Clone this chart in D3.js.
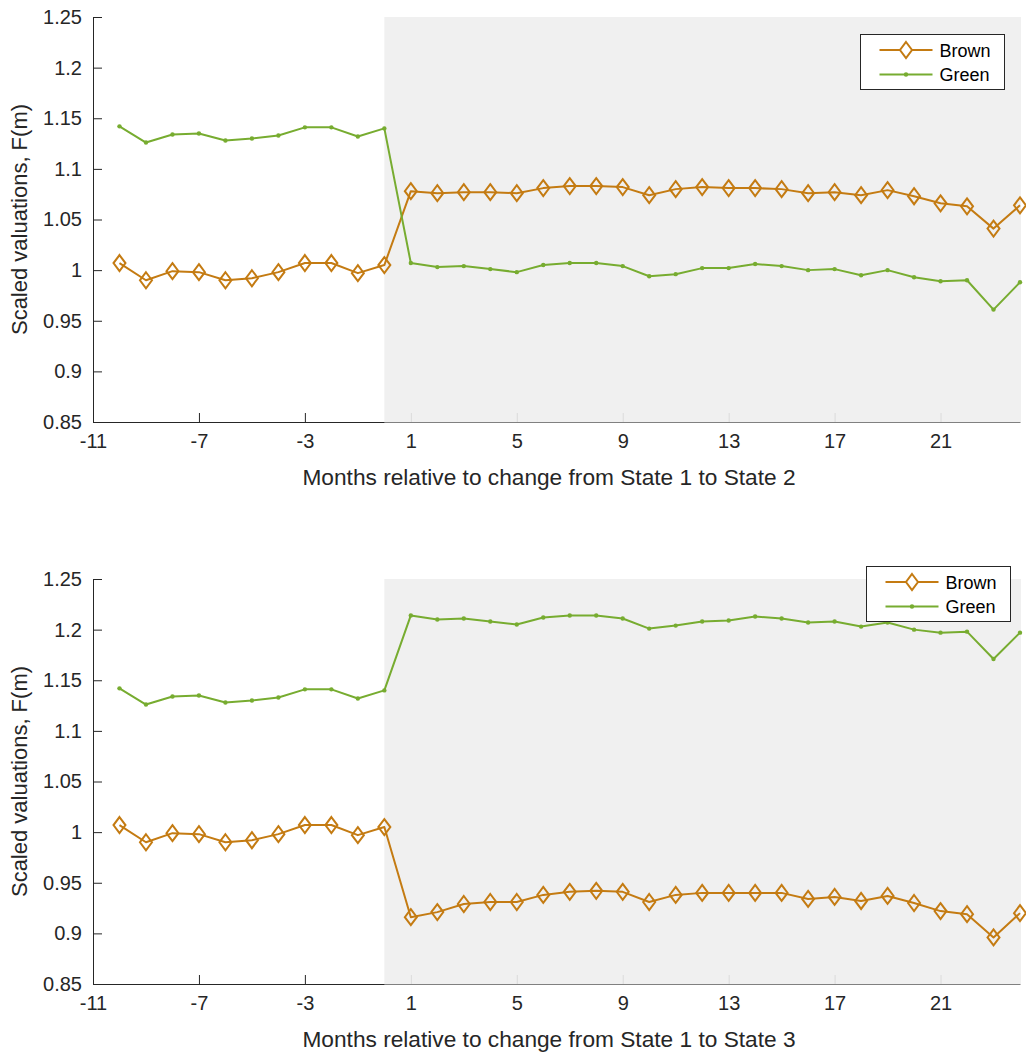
<!DOCTYPE html>
<html>
<head>
<meta charset="utf-8">
<script src="https://cdn.jsdelivr.net/npm/d3@7"></script>
<style>
  html, body { margin: 0; padding: 0; background: #ffffff; }
  svg { display: block; font-family: "Liberation Sans", Arial, Helvetica, sans-serif; }
</style>
</head>
<body>
<svg id="chart" width="1026" height="1057"></svg>
<script>
// ---- data ----
const months = [-10, -9, -8, -7, -6, -5, -4, -3, -2, -1, 0,
  1, 2, 3, 4, 5, 6, 7, 8, 9, 10, 11, 12, 13, 14, 15, 16, 17, 18, 19, 20, 21, 22, 23, 24];

const xTicks = [-11, -7, -3, 1, 5, 9, 13, 17, 21];
const xTickLabels = ["-11", "-7", "-3", "1", "5", "9", "13", "17", "21"];
const yTicks = [0.85, 0.9, 0.95, 1, 1.05, 1.1, 1.15, 1.2, 1.25];
const yTickLabels = ["0.85", "0.9", "0.95", "1", "1.05", "1.1", "1.15", "1.2", "1.25"];

const seriesNames = ["Brown", "Green"];

// Panel 1: State 1 -> State 2
const brownState2 = [1.007, 0.990, 0.999, 0.998, 0.990, 0.992, 0.998, 1.007, 1.007, 0.997, 1.005,
  1.078, 1.076, 1.077, 1.077, 1.076, 1.081, 1.083, 1.083, 1.082, 1.074, 1.080, 1.082,
  1.081, 1.081, 1.080, 1.076, 1.077, 1.074, 1.079, 1.073, 1.066, 1.063, 1.041, 1.064];
const greenState2 = [1.142, 1.126, 1.134, 1.135, 1.128, 1.130, 1.133, 1.141, 1.141, 1.132, 1.140,
  1.007, 1.003, 1.004, 1.001, 0.998, 1.005, 1.007, 1.007, 1.004, 0.994, 0.996, 1.002,
  1.002, 1.006, 1.004, 1.000, 1.001, 0.995, 1.000, 0.993, 0.989, 0.990, 0.961, 0.988];

// Panel 2: State 1 -> State 3
const brownState3 = [1.007, 0.990, 0.999, 0.998, 0.990, 0.992, 0.998, 1.007, 1.007, 0.997, 1.005,
  0.916, 0.921, 0.929, 0.931, 0.931, 0.938, 0.941, 0.942, 0.941, 0.931, 0.938, 0.940,
  0.940, 0.940, 0.940, 0.934, 0.936, 0.932, 0.937, 0.930, 0.922, 0.919, 0.896, 0.920];
const greenState3 = [1.142, 1.126, 1.134, 1.135, 1.128, 1.130, 1.133, 1.141, 1.141, 1.132, 1.140,
  1.214, 1.210, 1.211, 1.208, 1.205, 1.212, 1.214, 1.214, 1.211, 1.201, 1.204, 1.208,
  1.209, 1.213, 1.211, 1.207, 1.208, 1.203, 1.207, 1.200, 1.197, 1.198, 1.171, 1.197];

const xDomain = [-11, 24];
const yDomain = [0.85, 1.25];
const shadeStart = 0;

const xLabels = ["Months relative to change from State 1 to State 2",
                 "Months relative to change from State 1 to State 3"];
const yLabel = "Scaled valuations, F(m)";

// ---- styles ----
const BROWN = "#c47b12";
const GREEN = "#77ac30";
const AXIS = "#262626";

const svg = d3.select("#chart");

const diamondPath = (hw, hh) => `M0,${-hh}L${hw},0L0,${hh}L${-hw},0Z`;

function drawPanel(top, brown, green, xLabel, legendPos) {
  const left = 93, right = 1020, height = 405;
  const x = d3.scaleLinear().domain(xDomain).range([left, right]);
  const y = d3.scaleLinear().domain(yDomain).range([top + height, top]);
  const g = svg.append("g");

  // axes
  const yAxis = d3.axisLeft(y).tickValues(yTicks).tickFormat((d, i) => yTickLabels[i])
    .tickSizeInner(-9).tickSizeOuter(0).tickPadding(11);
  const ya = g.append("g").attr("transform", `translate(${left},0)`).call(yAxis);
  ya.select(".domain").attr("stroke", AXIS);
  ya.selectAll(".tick line").attr("stroke", AXIS);
  ya.selectAll(".tick text").attr("fill", AXIS).attr("font-size", 20)
    .attr("font-family", "Liberation Sans, Arial, sans-serif");

  const xAxis = d3.axisBottom(x).tickValues(xTicks).tickFormat((d, i) => xTickLabels[i])
    .tickSizeInner(-9).tickSizeOuter(0).tickPadding(12);
  const xa = g.append("g").attr("transform", `translate(0,${top + height})`).call(xAxis);
  xa.select(".domain").attr("stroke", AXIS);
  xa.selectAll(".tick line").attr("stroke", AXIS);
  xa.selectAll(".tick text").attr("fill", AXIS).attr("font-size", 20)
    .attr("font-family", "Liberation Sans, Arial, sans-serif")
    .attr("dy", "0.71em").attr("y", 12);

  // shaded post-change region (semi-opaque so ticks show faintly)
  g.append("rect")
    .attr("x", x(shadeStart)).attr("y", y(yDomain[1]))
    .attr("width", x(xDomain[1]) + 1 - x(shadeStart))
    .attr("height", y(yDomain[0]) - y(yDomain[1]) + 0.5)
    .attr("fill", "#eeeeee").attr("fill-opacity", 0.9);

  // labels
  g.append("text").attr("x", 549).attr("y", top + height + 63)
    .attr("text-anchor", "middle").attr("font-size", 22.7).attr("fill", AXIS).text(xLabel);
  g.append("text")
    .attr("transform", `translate(27,${top + height / 2}) rotate(-90)`)
    .attr("text-anchor", "middle").attr("font-size", 22).attr("fill", AXIS).text(yLabel);

  // lines
  const line = d3.line().x((d, i) => x(months[i])).y(d => y(d));
  g.append("path").datum(brown).attr("d", line).attr("fill", "none")
    .attr("stroke", BROWN).attr("stroke-width", 2).attr("stroke-linejoin", "round");
  g.append("path").datum(green).attr("d", line).attr("fill", "none")
    .attr("stroke", GREEN).attr("stroke-width", 2).attr("stroke-linejoin", "round");

  g.selectAll(".bm").data(brown).enter().append("path")
    .attr("transform", (d, i) => `translate(${x(months[i])},${y(d)})`)
    .attr("d", diamondPath(6, 8)).attr("fill", "none")
    .attr("stroke", BROWN).attr("stroke-width", 2);
  g.selectAll(".gm").data(green).enter().append("circle")
    .attr("cx", (d, i) => x(months[i])).attr("cy", d => y(d)).attr("r", 2.2)
    .attr("fill", GREEN);

  // legend
  const lg = g.append("g").attr("transform", `translate(${legendPos[0]},${legendPos[1]})`);
  lg.append("rect").attr("x", 0).attr("y", 0).attr("width", 144).attr("height", 55)
    .attr("fill", "#ffffff").attr("stroke", AXIS).attr("stroke-width", 1);
  const rows = [15.5, 40];
  seriesNames.forEach((name, k) => {
    const col = k === 0 ? BROWN : GREEN;
    lg.append("line").attr("x1", 19).attr("x2", 72).attr("y1", rows[k]).attr("y2", rows[k])
      .attr("stroke", col).attr("stroke-width", 2);
    if (k === 0) {
      lg.append("path").attr("transform", `translate(45.5,${rows[k]})`)
        .attr("d", diamondPath(6, 8)).attr("fill", "#ffffff")
        .attr("stroke", col).attr("stroke-width", 2);
    } else {
      lg.append("circle").attr("cx", 45.5).attr("cy", rows[k]).attr("r", 2.2).attr("fill", col);
    }
    lg.append("text").attr("x", 79).attr("y", rows[k] + 6.5).attr("font-size", 18)
      .attr("fill", "#000").text(name);
  });
}

drawPanel(17, brownState2, greenState2, xLabels[0], [860.5, 34.5]);
drawPanel(579, brownState3, greenState3, xLabels[1], [866.5, 566.5]);
</script>
</body>
</html>
